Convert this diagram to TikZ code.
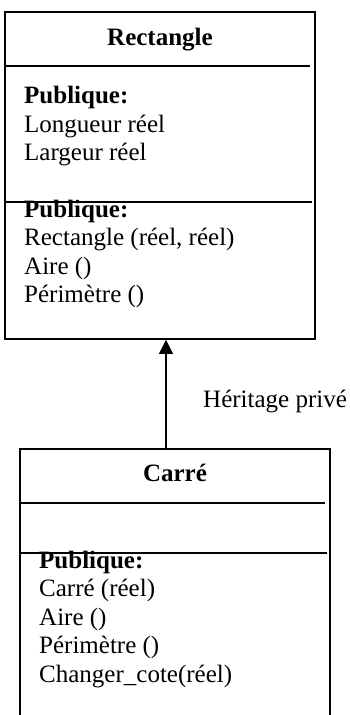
\documentclass[tikz,border=0pt]{standalone}
\usepackage{fontspec}
\setmainfont{Liberation Serif}
\usetikzlibrary{arrows.meta}

\tikzset{
  classbox/.style = {draw, line width=1.7pt, inner sep=0pt},
  txt/.style      = {anchor=base west, inner sep=0pt},
  title/.style    = {anchor=base, inner sep=0pt, font=\fontsize{25}{28.5}\selectfont\bfseries},
  herit/.style    = {line width=1.3pt, -{Triangle[length=14pt, width=14pt]}}
}

\begin{document}
\begin{tikzpicture}[x=1pt, y=-1pt, font=\fontsize{25}{28.5}\selectfont]
        \path[use as bounding box, clip] (0,0) rectangle (349,715);
        \fill[white] (0,0) rectangle (349,715);
        % classe de base
        \node[classbox, minimum width=310pt, minimum height=327pt] (rect) at (160,175.5) {};
        \node[title] (rtitle) at (160,45) {Rectangle};
        \draw[line width=1.5pt] (rect.west |- 0,66) -- (310,66);
        \draw[line width=1.5pt] (rect.west |- 0,202) -- (312,202);
        \foreach \t [count = \i] in {\textbf{Publique:}, Longueur réel, Largeur réel}{
          \node[txt] (rattr\i) at (24,103.5+28.5*\i-28.5) {\t};
        }
        \foreach \t [count = \i] in {\textbf{Publique:}, {Rectangle (réel, réel)}, Aire (), Périmètre ()}{
          \node[txt] (rmeth\i) at (24,217+28.5*\i-28.5) {\t};
        }
        % classe derivee
        \node[classbox, minimum width=310pt, minimum height=280pt] (carre) at (175,589) {};
        \node[title] (ctitle) at (175,481.5) {Carré};
        \draw[line width=1.5pt] (carre.west |- 0,503) -- (325,503);
        \draw[line width=1.5pt] (carre.west |- 0,553) -- (327,553);
        \foreach \t [count = \i] in {\textbf{Publique:}, Carré (réel), Aire (), Périmètre (), Changer\_cote(réel)}{
          \node[txt] (cmeth\i) at (39,568+28.5*\i-28.5) {\t};
        }
        % heritage
        \coordinate (axe) at (166,400);
        \draw[herit] (axe |- carre.north) -- (axe |- rect.south);
        \node[txt] (hlabel) at (203,407) {Héritage privé};
      \end{tikzpicture}
\end{document}
